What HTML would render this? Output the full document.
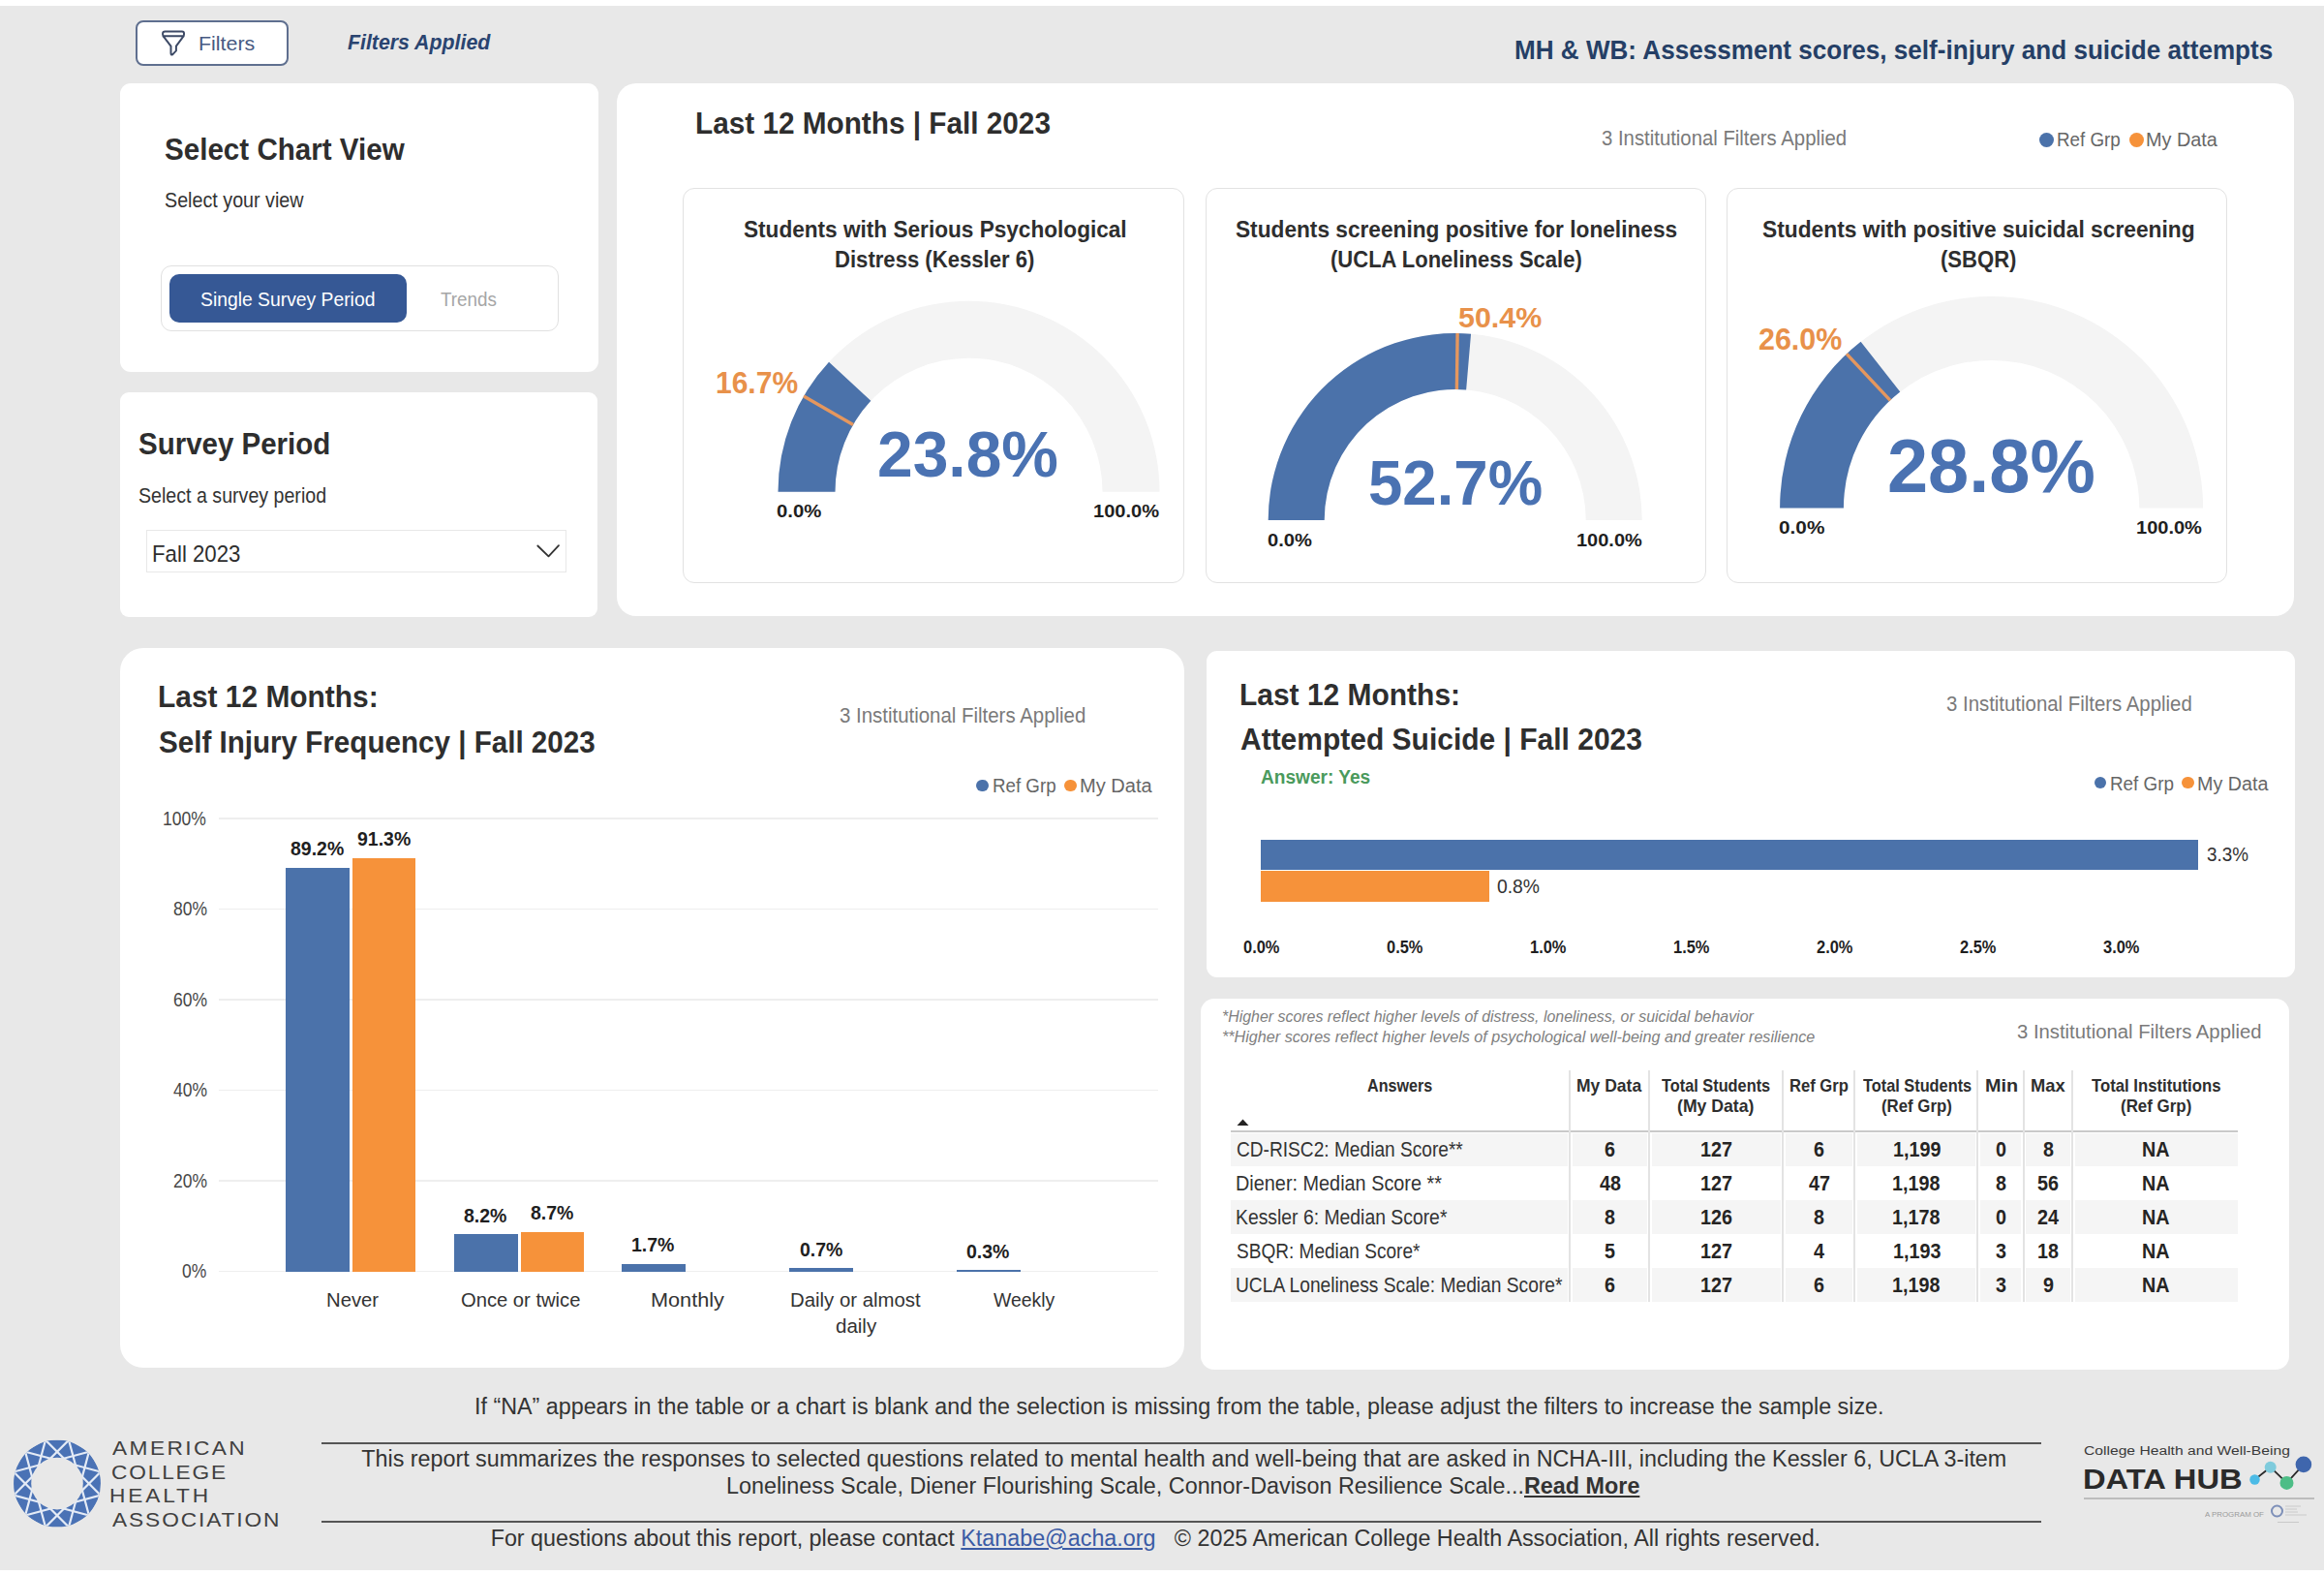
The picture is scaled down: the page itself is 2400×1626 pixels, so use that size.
<!DOCTYPE html>
<html><head><meta charset="utf-8"><title>MH &amp; WB Dashboard</title>
<style>
html,body{margin:0;padding:0;}
body{width:2400px;height:1626px;position:relative;overflow:hidden;background:#e8e8e8;font-family:"Liberation Sans",sans-serif;}
.t{position:absolute;white-space:pre;line-height:1;transform-origin:0 0;}
.r{position:absolute;}
</style></head><body>
<div class="r" style="left:0.0px;top:0.0px;width:2400.0px;height:6.0px;background:#ffffff;"></div>
<div class="r" style="left:0.0px;top:1621.0px;width:2400.0px;height:5.0px;background:#ffffff;"></div>
<div class="r" style="left:140.0px;top:21.0px;width:158.0px;height:46.5px;background:#ffffff;border:2px solid #5f6f8f;border-radius:8px;box-sizing:border-box;"></div>
<svg class="r" style="left:160px;top:25px;width:40px;height:37px" viewBox="0 0 40 37"><path d="M10.5,7.6 H28 Q30,7.6 30,9.6 V10.6 Q30,12.4 28.6,13.6 L21.9,22.6 V27.4 L18.6,30.9 Q16.5,32.6 16.5,30 V22.6 L9.6,13.6 Q8.1,12.4 8.1,10.6 V9.6 Q8.1,7.6 10.5,7.6 Z M8.6,12.2 H29.6" fill="none" stroke="#3d4a66" stroke-width="2" stroke-linejoin="round"/></svg>
<div class="t" style="left:205.09px;top:35.60px;font-size:19.77px;color:#475a82;transform:scaleX(1.0840);">Filters</div>
<div class="t" style="left:358.62px;top:32.60px;font-size:22.24px;color:#2a4470;font-weight:bold;font-style:italic;transform:scaleX(0.9588);">Filters Applied</div>
<div class="t" style="left:1564.16px;top:37.50px;font-size:27.91px;color:#253f66;font-weight:bold;transform:scaleX(0.9347);">MH &amp; WB: Assessment scores, self-injury and suicide attempts</div>
<div class="r" style="left:124.4px;top:86.0px;width:493.6px;height:298.0px;background:#fff;border-radius:11px;"></div>
<div class="t" style="left:169.99px;top:138.50px;font-size:31.40px;color:#2e2e2e;font-weight:bold;transform:scaleX(0.9425);">Select Chart View</div>
<div class="t" style="left:170.04px;top:196.00px;font-size:21.80px;color:#333;transform:scaleX(0.9045);">Select your view</div>
<div class="r" style="left:166.0px;top:274.4px;width:410.6px;height:68.1px;background:#fff;border:1.5px solid #e1e1e1;border-radius:11px;box-sizing:border-box;"></div>
<div class="r" style="left:174.9px;top:283.0px;width:245.1px;height:49.5px;background:#365895;border-radius:10px;"></div>
<div class="t" style="left:207.15px;top:299.30px;font-size:20.06px;color:#ffffff;transform:scaleX(0.9636);">Single Survey Period</div>
<div class="t" style="left:455.13px;top:299.30px;font-size:20.06px;color:#a6a6a6;transform:scaleX(0.9400);">Trends</div>
<div class="r" style="left:124.0px;top:404.8px;width:493.3px;height:232.4px;background:#fff;border-radius:9px;"></div>
<div class="t" style="left:142.70px;top:442.70px;font-size:31.54px;color:#2e2e2e;font-weight:bold;transform:scaleX(0.9351);">Survey Period</div>
<div class="t" style="left:142.77px;top:500.60px;font-size:22.09px;color:#333;transform:scaleX(0.8884);">Select a survey period</div>
<div class="r" style="left:151.3px;top:546.7px;width:433.5px;height:44.2px;background:#fff;border:1.5px solid #e8e8e8;box-sizing:border-box;"></div>
<div class="t" style="left:157.47px;top:559.50px;font-size:23.84px;color:#2e2e2e;transform:scaleX(0.9330);">Fall 2023</div>
<svg class="r" style="left:553px;top:560px;width:28px;height:20px" viewBox="0 0 28 20"><polyline points="2.3,3.5 13.5,14.4 24,3.2" fill="none" stroke="#333" stroke-width="1.8" stroke-linecap="round" stroke-linejoin="round"/></svg>
<div class="r" style="left:636.8px;top:85.8px;width:1732.7px;height:550.2px;background:#fff;border-radius:20px;"></div>
<div class="t" style="left:717.97px;top:110.60px;font-size:31.98px;color:#2e2e2e;font-weight:bold;transform:scaleX(0.9302);">Last 12 Months | Fall 2023</div>
<div class="t" style="left:1653.63px;top:132.30px;font-size:22.24px;color:#7a7a7a;transform:scaleX(0.9142);">3 Institutional Filters Applied</div>
<div class="r" style="left:2106.3px;top:136.8px;width:15.0px;height:15.0px;background:#4b72aa;border-radius:50%;"></div>
<div class="r" style="left:2198.8px;top:136.8px;width:15.0px;height:15.0px;background:#f6923a;border-radius:50%;"></div>
<div class="t" style="left:2124.36px;top:134.00px;font-size:20.06px;color:#666666;transform:scaleX(0.9373);">Ref Grp</div>
<div class="t" style="left:2215.52px;top:134.00px;font-size:20.06px;color:#666666;transform:scaleX(0.9903);">My Data</div>
<div class="r" style="left:705.3px;top:194.3px;width:518.1px;height:408.2px;background:#fff;border:1.5px solid #e2e2e2;border-radius:12px;box-sizing:border-box;"></div>
<div class="r" style="left:1244.5px;top:194.3px;width:517.1px;height:408.2px;background:#fff;border:1.5px solid #e2e2e2;border-radius:12px;box-sizing:border-box;"></div>
<div class="r" style="left:1783.1px;top:194.3px;width:516.9px;height:408.2px;background:#fff;border:1.5px solid #e2e2e2;border-radius:12px;box-sizing:border-box;"></div>
<div class="t" style="left:767.83px;top:226.00px;font-size:23.11px;color:#2e2e2e;font-weight:bold;transform:scaleX(0.9781);">Students with Serious Psychological</div>
<div class="t" style="left:862.17px;top:257.40px;font-size:23.11px;color:#2e2e2e;font-weight:bold;transform:scaleX(0.9563);">Distress (Kessler 6)</div>
<div class="t" style="left:1276.03px;top:226.20px;font-size:23.11px;color:#2e2e2e;font-weight:bold;transform:scaleX(0.9812);">Students screening positive for loneliness</div>
<div class="t" style="left:1374.37px;top:257.40px;font-size:23.11px;color:#2e2e2e;font-weight:bold;transform:scaleX(0.9526);">(UCLA Loneliness Scale)</div>
<div class="t" style="left:1819.52px;top:226.00px;font-size:23.11px;color:#2e2e2e;font-weight:bold;transform:scaleX(0.9853);">Students with positive suicidal screening</div>
<div class="t" style="left:2003.57px;top:257.40px;font-size:23.11px;color:#2e2e2e;font-weight:bold;transform:scaleX(0.9544);">(SBQR)</div>
<svg class="r" style="left:0;top:0;width:2400px;height:1626px" viewBox="0 0 2400 1626">
<path d="M803.50,507.70 A197,197 0 0 1 1197.50,507.70 L1138.50,507.70 A138,138 0 0 0 862.50,507.70 Z" fill="#f4f4f4"/>
<path d="M803.50,507.70 A197,197 0 0 1 856.05,373.75 L899.31,413.87 A138,138 0 0 0 862.50,507.70 Z" fill="#4b72aa"/>
<line x1="830.00" y1="409.02" x2="881.06" y2="438.57" stroke="#e5975e" stroke-width="3.4"/>
<path d="M1309.70,537.00 A193,193 0 0 1 1695.70,537.00 L1637.70,537.00 A135,135 0 0 0 1367.70,537.00 Z" fill="#f4f4f4"/>
<path d="M1309.70,537.00 A193,193 0 0 1 1519.05,344.69 L1514.14,402.49 A135,135 0 0 0 1367.70,537.00 Z" fill="#4b72aa"/>
<line x1="1505.13" y1="344.02" x2="1504.40" y2="402.01" stroke="#e5975e" stroke-width="3.4"/>
<path d="M1838.10,524.60 A218.5,218.5 0 0 1 2275.10,524.60 L2209.30,524.60 A152.7,152.7 0 0 0 1903.90,524.60 Z" fill="#f4f4f4"/>
<path d="M1838.10,524.60 A218.5,218.5 0 0 1 1921.60,352.80 L1962.25,404.53 A152.7,152.7 0 0 0 1903.90,524.60 Z" fill="#4b72aa"/>
<line x1="1907.03" y1="365.32" x2="1952.07" y2="413.29" stroke="#e5975e" stroke-width="3.4"/>
</svg>
<div class="t" style="left:906.24px;top:435.50px;font-size:66.86px;color:#4a72b2;font-weight:bold;transform:scaleX(0.9859);">23.8%</div>
<div class="t" style="left:1412.84px;top:467.20px;font-size:64.68px;color:#4a72b2;font-weight:bold;transform:scaleX(0.9827);">52.7%</div>
<div class="t" style="left:1948.97px;top:443.20px;font-size:77.33px;color:#4a72b2;font-weight:bold;transform:scaleX(0.9793);">28.8%</div>
<div class="t" style="left:738.74px;top:380.00px;font-size:30.52px;color:#e8914a;font-weight:bold;transform:scaleX(0.9831);">16.7%</div>
<div class="t" style="left:1505.80px;top:311.70px;font-size:30.38px;color:#e8914a;font-weight:bold;transform:scaleX(1.0024);">50.4%</div>
<div class="t" style="left:1816.10px;top:335.00px;font-size:30.52px;color:#e8914a;font-weight:bold;transform:scaleX(0.9976);">26.0%</div>
<div class="t" style="left:802.16px;top:518.80px;font-size:18.60px;color:#1f1f1f;font-weight:bold;transform:scaleX(1.0925);">0.0%</div>
<div class="t" style="left:1128.58px;top:518.80px;font-size:18.60px;color:#1f1f1f;font-weight:bold;transform:scaleX(1.0787);">100.0%</div>
<div class="t" style="left:1309.38px;top:549.00px;font-size:18.60px;color:#1f1f1f;font-weight:bold;transform:scaleX(1.0825);">0.0%</div>
<div class="t" style="left:1627.79px;top:549.00px;font-size:18.60px;color:#1f1f1f;font-weight:bold;transform:scaleX(1.0754);">100.0%</div>
<div class="t" style="left:1836.92px;top:535.80px;font-size:18.60px;color:#1f1f1f;font-weight:bold;transform:scaleX(1.1175);">0.0%</div>
<div class="t" style="left:2206.38px;top:535.80px;font-size:18.60px;color:#1f1f1f;font-weight:bold;transform:scaleX(1.0770);">100.0%</div>
<div class="r" style="left:123.6px;top:669.3px;width:1099.9px;height:742.7px;background:#fff;border-radius:24px;"></div>
<div class="t" style="left:163.40px;top:703.50px;font-size:31.11px;color:#2e2e2e;font-weight:bold;transform:scaleX(0.9615);">Last 12 Months:</div>
<div class="t" style="left:164.37px;top:750.50px;font-size:31.11px;color:#2e2e2e;font-weight:bold;transform:scaleX(0.9512);">Self Injury Frequency | Fall 2023</div>
<div class="t" style="left:867.06px;top:728.10px;font-size:21.22px;color:#7a7a7a;transform:scaleX(0.9625);">3 Institutional Filters Applied</div>
<div class="r" style="left:1008.2px;top:804.5px;width:12.5px;height:12.5px;background:#4b72aa;border-radius:50%;"></div>
<div class="r" style="left:1099.0px;top:804.5px;width:12.5px;height:12.5px;background:#f6923a;border-radius:50%;"></div>
<div class="t" style="left:1024.70px;top:801.20px;font-size:20.35px;color:#666666;transform:scaleX(0.9206);">Ref Grp</div>
<div class="t" style="left:1114.83px;top:801.20px;font-size:20.35px;color:#666666;transform:scaleX(0.9863);">My Data</div>
<div class="r" style="left:226.0px;top:1311.8px;width:970.2px;height:1.6px;background:#eeeeee;"></div>
<div class="t" style="left:188.19px;top:1302.10px;font-size:20.35px;color:#474747;transform:scaleX(0.8600);">0%</div>
<div class="r" style="left:226.0px;top:1218.3px;width:970.2px;height:1.6px;background:#eeeeee;"></div>
<div class="t" style="left:178.73px;top:1208.58px;font-size:20.35px;color:#474747;transform:scaleX(0.8600);">20%</div>
<div class="r" style="left:226.0px;top:1124.8px;width:970.2px;height:1.6px;background:#eeeeee;"></div>
<div class="t" style="left:178.73px;top:1115.06px;font-size:20.35px;color:#474747;transform:scaleX(0.8600);">40%</div>
<div class="r" style="left:226.0px;top:1031.2px;width:970.2px;height:1.6px;background:#eeeeee;"></div>
<div class="t" style="left:178.73px;top:1021.54px;font-size:20.35px;color:#474747;transform:scaleX(0.8600);">60%</div>
<div class="r" style="left:226.0px;top:937.7px;width:970.2px;height:1.6px;background:#eeeeee;"></div>
<div class="t" style="left:178.73px;top:928.02px;font-size:20.35px;color:#474747;transform:scaleX(0.8600);">80%</div>
<div class="r" style="left:226.0px;top:844.2px;width:970.2px;height:1.6px;background:#eeeeee;"></div>
<div class="t" style="left:168.41px;top:834.50px;font-size:20.35px;color:#474747;transform:scaleX(0.8600);">100%</div>
<div class="r" style="left:295.2px;top:895.5px;width:65.5px;height:417.7px;background:#4b72aa;"></div>
<div class="t" style="left:299.88px;top:867.00px;font-size:19.77px;color:#1f1f1f;font-weight:bold;transform:scaleX(0.9850);">89.2%</div>
<div class="r" style="left:363.9px;top:885.7px;width:65.5px;height:427.5px;background:#f6923a;"></div>
<div class="t" style="left:368.58px;top:857.18px;font-size:19.77px;color:#1f1f1f;font-weight:bold;transform:scaleX(0.9850);">91.3%</div>
<div class="r" style="left:469.1px;top:1274.3px;width:65.5px;height:38.9px;background:#4b72aa;"></div>
<div class="t" style="left:479.20px;top:1245.76px;font-size:19.77px;color:#1f1f1f;font-weight:bold;transform:scaleX(0.9850);">8.2%</div>
<div class="r" style="left:537.8px;top:1271.9px;width:65.5px;height:41.3px;background:#f6923a;"></div>
<div class="t" style="left:547.90px;top:1243.42px;font-size:19.77px;color:#1f1f1f;font-weight:bold;transform:scaleX(0.9850);">8.7%</div>
<div class="r" style="left:642.2px;top:1304.7px;width:65.5px;height:8.5px;background:#4b72aa;"></div>
<div class="t" style="left:652.30px;top:1276.15px;font-size:19.77px;color:#1f1f1f;font-weight:bold;transform:scaleX(0.9850);">1.7%</div>
<div class="r" style="left:815.4px;top:1309.3px;width:65.5px;height:3.9px;background:#4b72aa;"></div>
<div class="t" style="left:825.50px;top:1280.83px;font-size:19.77px;color:#1f1f1f;font-weight:bold;transform:scaleX(0.9850);">0.7%</div>
<div class="r" style="left:988.3px;top:1311.2px;width:65.5px;height:2.0px;background:#4b72aa;"></div>
<div class="t" style="left:998.39px;top:1282.70px;font-size:19.77px;color:#1f1f1f;font-weight:bold;transform:scaleX(0.9850);">0.3%</div>
<div class="t" style="left:337.29px;top:1330.90px;font-size:21.08px;color:#333;transform:scaleX(0.9623);">Never</div>
<div class="t" style="left:476.11px;top:1330.90px;font-size:21.08px;color:#333;transform:scaleX(0.9579);">Once or twice</div>
<div class="t" style="left:672.33px;top:1330.90px;font-size:21.08px;color:#333;transform:scaleX(1.0282);">Monthly</div>
<div class="t" style="left:816.48px;top:1330.90px;font-size:21.08px;color:#333;transform:scaleX(0.9662);">Daily or almost</div>
<div class="t" style="left:863.19px;top:1357.50px;font-size:21.08px;color:#333;transform:scaleX(0.9732);">daily</div>
<div class="t" style="left:1026.34px;top:1330.90px;font-size:21.08px;color:#333;transform:scaleX(0.9206);">Weekly</div>
<div class="r" style="left:1246.0px;top:671.6px;width:1123.8px;height:337.1px;background:#fff;border-radius:11px;"></div>
<div class="t" style="left:1280.46px;top:701.60px;font-size:30.67px;color:#2e2e2e;font-weight:bold;transform:scaleX(0.9772);">Last 12 Months:</div>
<div class="t" style="left:1281.43px;top:747.60px;font-size:30.67px;color:#2e2e2e;font-weight:bold;transform:scaleX(0.9781);">Attempted Suicide | Fall 2023</div>
<div class="t" style="left:1301.56px;top:792.50px;font-size:19.91px;color:#4a9a5c;font-weight:bold;transform:scaleX(0.9591);">Answer: Yes</div>
<div class="t" style="left:2010.27px;top:717.10px;font-size:21.37px;color:#7a7a7a;transform:scaleX(0.9540);">3 Institutional Filters Applied</div>
<div class="r" style="left:2162.9px;top:801.8px;width:12.5px;height:12.5px;background:#4b72aa;border-radius:50%;"></div>
<div class="r" style="left:2253.3px;top:801.8px;width:12.5px;height:12.5px;background:#f6923a;border-radius:50%;"></div>
<div class="t" style="left:2178.68px;top:798.70px;font-size:20.35px;color:#666666;transform:scaleX(0.9265);">Ref Grp</div>
<div class="t" style="left:2268.98px;top:798.70px;font-size:20.35px;color:#666666;transform:scaleX(0.9699);">My Data</div>
<div class="r" style="left:1302.3px;top:866.5px;width:967.7px;height:31.0px;background:#4b72aa;"></div>
<div class="r" style="left:1302.3px;top:899.3px;width:235.4px;height:31.3px;background:#f6923a;"></div>
<div class="t" style="left:2279.31px;top:871.50px;font-size:20.35px;color:#333;transform:scaleX(0.9273);">3.3%</div>
<div class="t" style="left:1546.17px;top:905.00px;font-size:20.35px;color:#333;transform:scaleX(0.9500);">0.8%</div>
<div class="t" style="left:1284.14px;top:970.00px;font-size:17.88px;color:#1f1f1f;font-weight:bold;transform:scaleX(0.9200);">0.0%</div>
<div class="t" style="left:1432.19px;top:970.00px;font-size:17.88px;color:#1f1f1f;font-weight:bold;transform:scaleX(0.9200);">0.5%</div>
<div class="t" style="left:1580.24px;top:970.00px;font-size:17.88px;color:#1f1f1f;font-weight:bold;transform:scaleX(0.9200);">1.0%</div>
<div class="t" style="left:1728.29px;top:970.00px;font-size:17.88px;color:#1f1f1f;font-weight:bold;transform:scaleX(0.9200);">1.5%</div>
<div class="t" style="left:1876.34px;top:970.00px;font-size:17.88px;color:#1f1f1f;font-weight:bold;transform:scaleX(0.9200);">2.0%</div>
<div class="t" style="left:2024.39px;top:970.00px;font-size:17.88px;color:#1f1f1f;font-weight:bold;transform:scaleX(0.9200);">2.5%</div>
<div class="t" style="left:2172.44px;top:970.00px;font-size:17.88px;color:#1f1f1f;font-weight:bold;transform:scaleX(0.9200);">3.0%</div>
<div class="r" style="left:1239.9px;top:1030.8px;width:1124.5px;height:382.8px;background:#fff;border-radius:14px;"></div>
<div class="t" style="left:1262.39px;top:1040.60px;font-size:17.01px;color:#808080;font-style:italic;transform:scaleX(0.9368);">*Higher scores reflect higher levels of distress, loneliness, or suicidal behavior</div>
<div class="t" style="left:1262.38px;top:1062.00px;font-size:17.01px;color:#808080;font-style:italic;transform:scaleX(0.9500);">**Higher scores reflect higher levels of psychological well-being and greater resilience</div>
<div class="t" style="left:2083.14px;top:1055.10px;font-size:20.79px;color:#7a7a7a;transform:scaleX(0.9758);">3 Institutional Filters Applied</div>
<div class="r" style="left:1271.0px;top:1169.7px;width:1040.0px;height:34.7px;background:#f5f5f5;"></div>
<div class="r" style="left:1271.0px;top:1239.4px;width:1040.0px;height:34.6px;background:#f5f5f5;"></div>
<div class="r" style="left:1271.0px;top:1309.0px;width:1040.0px;height:35.1px;background:#f5f5f5;"></div>
<div class="r" style="left:1271.0px;top:1167.0px;width:1040.0px;height:2.0px;background:#c9c9c9;"></div>
<div class="r" style="left:1618.7px;top:1169.0px;width:5.0px;height:175.1px;background:#ffffff;"></div>
<div class="r" style="left:1620.2px;top:1104.6px;width:2.0px;height:239.5px;background:#e3e3e3;"></div>
<div class="r" style="left:1700.7px;top:1169.0px;width:5.0px;height:175.1px;background:#ffffff;"></div>
<div class="r" style="left:1702.2px;top:1104.6px;width:2.0px;height:239.5px;background:#e3e3e3;"></div>
<div class="r" style="left:1838.7px;top:1169.0px;width:5.0px;height:175.1px;background:#ffffff;"></div>
<div class="r" style="left:1840.2px;top:1104.6px;width:2.0px;height:239.5px;background:#e3e3e3;"></div>
<div class="r" style="left:1912.9px;top:1169.0px;width:5.0px;height:175.1px;background:#ffffff;"></div>
<div class="r" style="left:1914.4px;top:1104.6px;width:2.0px;height:239.5px;background:#e3e3e3;"></div>
<div class="r" style="left:2039.9px;top:1169.0px;width:5.0px;height:175.1px;background:#ffffff;"></div>
<div class="r" style="left:2041.4px;top:1104.6px;width:2.0px;height:239.5px;background:#e3e3e3;"></div>
<div class="r" style="left:2087.3px;top:1169.0px;width:5.0px;height:175.1px;background:#ffffff;"></div>
<div class="r" style="left:2088.8px;top:1104.6px;width:2.0px;height:239.5px;background:#e3e3e3;"></div>
<div class="r" style="left:2137.5px;top:1169.0px;width:5.0px;height:175.1px;background:#ffffff;"></div>
<div class="r" style="left:2139.0px;top:1104.6px;width:2.0px;height:239.5px;background:#e3e3e3;"></div>
<svg class="r" style="left:1276px;top:1154px;width:15px;height:9px" viewBox="0 0 15 9"><polygon points="1.5,8 7.5,1.5 13.5,8" fill="#252423"/></svg>
<div class="t" style="left:1411.67px;top:1111.70px;font-size:18.17px;color:#2e2e2e;font-weight:bold;transform:scaleX(0.8877);">Answers</div>
<div class="t" style="left:1628.15px;top:1111.70px;font-size:18.17px;color:#2e2e2e;font-weight:bold;transform:scaleX(0.9647);">My Data</div>
<div class="t" style="left:1716.35px;top:1111.70px;font-size:18.17px;color:#2e2e2e;font-weight:bold;transform:scaleX(0.8992);">Total Students</div>
<div class="t" style="left:1732.24px;top:1133.10px;font-size:18.17px;color:#2e2e2e;font-weight:bold;transform:scaleX(0.9722);">(My Data)</div>
<div class="t" style="left:1847.58px;top:1111.70px;font-size:18.17px;color:#2e2e2e;font-weight:bold;transform:scaleX(0.9141);">Ref Grp</div>
<div class="t" style="left:1923.65px;top:1111.70px;font-size:18.17px;color:#2e2e2e;font-weight:bold;transform:scaleX(0.8992);">Total Students</div>
<div class="t" style="left:1942.86px;top:1133.10px;font-size:18.17px;color:#2e2e2e;font-weight:bold;transform:scaleX(0.9250);">(Ref Grp)</div>
<div class="t" style="left:2049.72px;top:1111.70px;font-size:18.17px;color:#2e2e2e;font-weight:bold;transform:scaleX(1.0893);">Min</div>
<div class="t" style="left:2097.34px;top:1111.70px;font-size:18.17px;color:#2e2e2e;font-weight:bold;transform:scaleX(1.0091);">Max</div>
<div class="t" style="left:2159.99px;top:1111.70px;font-size:18.17px;color:#2e2e2e;font-weight:bold;transform:scaleX(0.9210);">Total Institutions</div>
<div class="t" style="left:2189.50px;top:1133.10px;font-size:18.17px;color:#2e2e2e;font-weight:bold;transform:scaleX(0.9316);">(Ref Grp)</div>
<div class="t" style="left:1276.85px;top:1175.90px;font-size:21.22px;color:#333;transform:scaleX(0.9012);">CD-RISC2: Median Score**</div>
<div class="t" style="left:1656.82px;top:1175.90px;font-size:21.22px;color:#252423;font-weight:bold;transform:scaleX(0.9300);">6</div>
<div class="t" style="left:1755.66px;top:1175.90px;font-size:21.22px;color:#252423;font-weight:bold;transform:scaleX(0.9300);">127</div>
<div class="t" style="left:1872.72px;top:1175.90px;font-size:21.22px;color:#252423;font-weight:bold;transform:scaleX(0.9300);">6</div>
<div class="t" style="left:1954.56px;top:1175.90px;font-size:21.22px;color:#252423;font-weight:bold;transform:scaleX(0.9300);">1,199</div>
<div class="t" style="left:2060.82px;top:1175.90px;font-size:21.22px;color:#252423;font-weight:bold;transform:scaleX(0.9300);">0</div>
<div class="t" style="left:2109.82px;top:1175.90px;font-size:21.22px;color:#252423;font-weight:bold;transform:scaleX(0.9300);">8</div>
<div class="t" style="left:2211.99px;top:1175.90px;font-size:21.22px;color:#252423;font-weight:bold;transform:scaleX(0.9300);">NA</div>
<div class="t" style="left:1275.86px;top:1210.85px;font-size:21.22px;color:#333;transform:scaleX(0.9357);">Diener: Median Score **</div>
<div class="t" style="left:1651.71px;top:1210.85px;font-size:21.22px;color:#252423;font-weight:bold;transform:scaleX(0.9300);">48</div>
<div class="t" style="left:1755.66px;top:1210.85px;font-size:21.22px;color:#252423;font-weight:bold;transform:scaleX(0.9300);">127</div>
<div class="t" style="left:1867.61px;top:1210.85px;font-size:21.22px;color:#252423;font-weight:bold;transform:scaleX(0.9300);">47</div>
<div class="t" style="left:1954.09px;top:1210.85px;font-size:21.22px;color:#252423;font-weight:bold;transform:scaleX(0.9300);">1,198</div>
<div class="t" style="left:2060.82px;top:1210.85px;font-size:21.22px;color:#252423;font-weight:bold;transform:scaleX(0.9300);">8</div>
<div class="t" style="left:2104.24px;top:1210.85px;font-size:21.22px;color:#252423;font-weight:bold;transform:scaleX(0.9300);">56</div>
<div class="t" style="left:2211.99px;top:1210.85px;font-size:21.22px;color:#252423;font-weight:bold;transform:scaleX(0.9300);">NA</div>
<div class="t" style="left:1275.92px;top:1245.80px;font-size:21.22px;color:#333;transform:scaleX(0.9123);">Kessler 6: Median Score*</div>
<div class="t" style="left:1656.82px;top:1245.80px;font-size:21.22px;color:#252423;font-weight:bold;transform:scaleX(0.9300);">8</div>
<div class="t" style="left:1755.66px;top:1245.80px;font-size:21.22px;color:#252423;font-weight:bold;transform:scaleX(0.9300);">126</div>
<div class="t" style="left:1872.72px;top:1245.80px;font-size:21.22px;color:#252423;font-weight:bold;transform:scaleX(0.9300);">8</div>
<div class="t" style="left:1954.09px;top:1245.80px;font-size:21.22px;color:#252423;font-weight:bold;transform:scaleX(0.9300);">1,178</div>
<div class="t" style="left:2060.82px;top:1245.80px;font-size:21.22px;color:#252423;font-weight:bold;transform:scaleX(0.9300);">0</div>
<div class="t" style="left:2103.78px;top:1245.80px;font-size:21.22px;color:#252423;font-weight:bold;transform:scaleX(0.9300);">24</div>
<div class="t" style="left:2211.99px;top:1245.80px;font-size:21.22px;color:#252423;font-weight:bold;transform:scaleX(0.9300);">NA</div>
<div class="t" style="left:1276.85px;top:1280.75px;font-size:21.22px;color:#333;transform:scaleX(0.8971);">SBQR: Median Score*</div>
<div class="t" style="left:1656.82px;top:1280.75px;font-size:21.22px;color:#252423;font-weight:bold;transform:scaleX(0.9300);">5</div>
<div class="t" style="left:1755.66px;top:1280.75px;font-size:21.22px;color:#252423;font-weight:bold;transform:scaleX(0.9300);">127</div>
<div class="t" style="left:1872.72px;top:1280.75px;font-size:21.22px;color:#252423;font-weight:bold;transform:scaleX(0.9300);">4</div>
<div class="t" style="left:1954.56px;top:1280.75px;font-size:21.22px;color:#252423;font-weight:bold;transform:scaleX(0.9300);">1,193</div>
<div class="t" style="left:2060.82px;top:1280.75px;font-size:21.22px;color:#252423;font-weight:bold;transform:scaleX(0.9300);">3</div>
<div class="t" style="left:2104.24px;top:1280.75px;font-size:21.22px;color:#252423;font-weight:bold;transform:scaleX(0.9300);">18</div>
<div class="t" style="left:2211.99px;top:1280.75px;font-size:21.22px;color:#252423;font-weight:bold;transform:scaleX(0.9300);">NA</div>
<div class="t" style="left:1275.94px;top:1315.70px;font-size:21.22px;color:#333;transform:scaleX(0.9054);">UCLA Loneliness Scale: Median Score*</div>
<div class="t" style="left:1656.82px;top:1315.70px;font-size:21.22px;color:#252423;font-weight:bold;transform:scaleX(0.9300);">6</div>
<div class="t" style="left:1755.66px;top:1315.70px;font-size:21.22px;color:#252423;font-weight:bold;transform:scaleX(0.9300);">127</div>
<div class="t" style="left:1872.72px;top:1315.70px;font-size:21.22px;color:#252423;font-weight:bold;transform:scaleX(0.9300);">6</div>
<div class="t" style="left:1954.09px;top:1315.70px;font-size:21.22px;color:#252423;font-weight:bold;transform:scaleX(0.9300);">1,198</div>
<div class="t" style="left:2060.82px;top:1315.70px;font-size:21.22px;color:#252423;font-weight:bold;transform:scaleX(0.9300);">3</div>
<div class="t" style="left:2109.82px;top:1315.70px;font-size:21.22px;color:#252423;font-weight:bold;transform:scaleX(0.9300);">9</div>
<div class="t" style="left:2211.99px;top:1315.70px;font-size:21.22px;color:#252423;font-weight:bold;transform:scaleX(0.9300);">NA</div>
<div class="t" style="left:490.00px;top:1441.00px;font-size:23.30px;color:#333333;">If “NA” appears in the table or a chart is blank and the selection is missing from the table, please adjust the filters to increase the sample size.</div>
<div class="r" style="left:332.2px;top:1489.0px;width:1775.8px;height:1.8px;background:#555555;"></div>
<div class="r" style="left:332.2px;top:1570.3px;width:1775.8px;height:1.8px;background:#555555;"></div>
<div class="t" style="left:373.30px;top:1495.00px;font-size:23.30px;color:#333333;">This report summarizes the responses to selected questions related to mental health and well-being that are asked in NCHA-III, including the Kessler 6, UCLA 3-item</div>
<div class="t" style="left:750.49px;top:1522.50px;font-size:23.30px;color:#333333;transform:scaleX(1.0021);">Loneliness Scale, Diener Flourishing Scale, Connor-Davison Resilience Scale...<b><u>Read More</u></b></div>
<div class="t" style="left:506.70px;top:1576.80px;font-size:23.30px;color:#333333;">For questions about this report, please contact <u style="color:#3b5ba5">Ktanabe@acha.org</u>   © 2025 American College Health Association, All rights reserved.</div>
<svg class="r" style="left:0;top:1480px;width:110px;height:110px" viewBox="0 1480 110 110"><defs><clipPath id="achc"><circle cx="59" cy="1531.6" r="45"/></clipPath></defs><g clip-path="url(#achc)"><polygon points="71.04,1486.68 91.88,1498.72 103.92,1519.56 103.92,1543.64 91.88,1564.48 71.04,1576.52 46.96,1576.52 26.12,1564.48 14.08,1543.64 14.08,1519.56 26.12,1498.72 46.96,1486.68" fill="#4a72b5"/><g stroke="#e4ebf6" stroke-width="2.2"><line x1="71.04" y1="1486.68" x2="91.88" y2="1564.48"/><line x1="91.88" y1="1498.72" x2="71.04" y2="1576.52"/><line x1="103.92" y1="1519.56" x2="46.96" y2="1576.52"/><line x1="103.92" y1="1543.64" x2="26.12" y2="1564.48"/><line x1="91.88" y1="1564.48" x2="14.08" y2="1543.64"/><line x1="71.04" y1="1576.52" x2="14.08" y2="1519.56"/><line x1="46.96" y1="1576.52" x2="26.12" y2="1498.72"/><line x1="26.12" y1="1564.48" x2="46.96" y2="1486.68"/><line x1="14.08" y1="1543.64" x2="71.04" y2="1486.68"/><line x1="14.08" y1="1519.56" x2="91.88" y2="1498.72"/><line x1="26.12" y1="1498.72" x2="103.92" y2="1519.56"/><line x1="46.96" y1="1486.68" x2="103.92" y2="1543.64"/></g></g><circle cx="59" cy="1531.6" r="26.8" fill="#e8e8e8"/></svg>
<div class="t" style="left:115.65px;top:1485.30px;font-size:20.64px;color:#404040;transform:scaleX(1.1000);letter-spacing:2.208px;">AMERICAN</div>
<div class="t" style="left:114.55px;top:1509.80px;font-size:20.64px;color:#404040;transform:scaleX(1.1000);letter-spacing:1.667px;">COLLEGE</div>
<div class="t" style="left:113.45px;top:1534.30px;font-size:20.64px;color:#404040;transform:scaleX(1.1000);letter-spacing:2.600px;">HEALTH</div>
<div class="t" style="left:115.65px;top:1558.60px;font-size:20.64px;color:#404040;transform:scaleX(1.1000);letter-spacing:1.736px;">ASSOCIATION</div>
<div class="t" style="left:2151.86px;top:1490.80px;font-size:13.52px;color:#3a3a3a;transform:scaleX(1.1580);">College Health and Well-Being</div>
<div class="t" style="left:2150.84px;top:1512.10px;font-size:29.65px;color:#2a2a2a;font-weight:bold;transform:scaleX(1.1034);">DATA HUB</div>
<svg class="r" style="left:2310px;top:1495px;width:90px;height:50px" viewBox="2310 1495 90 50"><polyline points="2328.5,1527.5 2344.7,1514.7 2361.5,1530.9 2378.9,1511.9" fill="none" stroke="#2a2a2a" stroke-width="1.8"/><circle cx="2328.5" cy="1527.5" r="5.2" fill="#4cbbe6"/><circle cx="2344.7" cy="1514.7" r="6" fill="#7fcbdc"/><circle cx="2361.5" cy="1530.9" r="7" fill="#4dbd86"/><circle cx="2378.9" cy="1511.9" r="8.3" fill="#3f66ad"/></svg>
<div class="r" style="left:2151.7px;top:1546.4px;width:238.3px;height:1.4px;background:#bdbdbd;"></div>
<div class="t" style="left:2277.11px;top:1559.50px;font-size:7.99px;color:#9a9a9a;transform:scaleX(0.9883);">A PROGRAM OF</div>
<svg class="r" style="left:2342px;top:1551px;width:50px;height:25px" viewBox="2342 1551 50 25"><circle cx="2351.5" cy="1560" r="5.5" fill="none" stroke="#7d8fb8" stroke-width="2"/><g fill="#c9c9c9"><rect x="2360" y="1554.5" width="16" height="1"/><rect x="2360" y="1557.5" width="12" height="1"/><rect x="2360" y="1560.5" width="13" height="1"/><rect x="2360" y="1563.5" width="22" height="1"/><rect x="2352" y="1571" width="22" height="1"/></g></svg>
</body></html>
